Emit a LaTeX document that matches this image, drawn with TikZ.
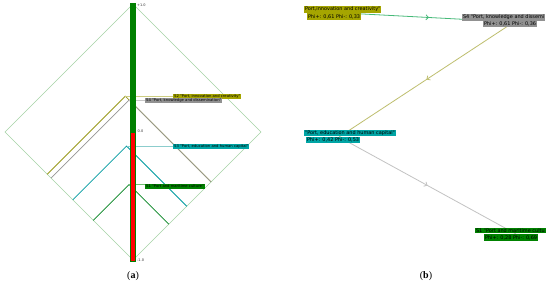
\documentclass[tikz,border=0pt]{standalone}
\usepackage{fontspec}
\newfontfamily\lblfont{DejaVu Sans}
\newfontfamily\capfont{Liberation Serif}
\usetikzlibrary{arrows.meta,decorations.markings}
\definecolor{olv}{RGB}{155,155,30}
\definecolor{olvL}{RGB}{205,205,130}
\definecolor{olvB}{RGB}{165,165,0}
\definecolor{gry}{RGB}{150,150,150}
\definecolor{gryL}{RGB}{200,200,200}
\definecolor{gryB}{RGB}{145,145,145}
\definecolor{tea}{RGB}{0,155,160}
\definecolor{teaL}{RGB}{140,205,205}
\definecolor{teaB}{RGB}{0,165,165}
\definecolor{grn}{RGB}{0,130,30}
\definecolor{grnL}{RGB}{115,190,115}
\definecolor{grnB}{RGB}{0,130,0}
\definecolor{dia}{RGB}{165,210,165}
\definecolor{edgG}{RGB}{70,185,120}
\definecolor{edgO}{RGB}{190,190,110}
\definecolor{edgY}{RGB}{195,195,195}
\definecolor{barG}{RGB}{0,128,0}
\definecolor{barR}{RGB}{255,0,0}
\tikzset{
  lblA/.style={font=\lblfont\fontsize{3.75}{4.2}\selectfont, inner xsep=1pt, inner ysep=0.9pt, anchor=west, text=black},
  lblB/.style={font=\lblfont\fontsize{4.95}{5.4}\selectfont, inner xsep=0.8pt, inner ysep=0.9pt, text=black},
  ticklbl/.style={font=\lblfont\fontsize{3.5}{4}\selectfont, inner sep=0pt, anchor=west, text=black!80},
  cone/.style={line width=0.8pt},
  leader/.style={line width=0.7pt},
  midarrow/.style={postaction={decorate}, decoration={markings, mark=at position 0.5 with {\arrow{Straight Barb[length=2.5pt,width=5pt]}}}},
  captxt/.style={font=\capfont\fontsize{10}{12}\selectfont, inner sep=0pt}
}
\begin{document}
\begin{tikzpicture}[x=1pt,y=-1pt]
\useasboundingbox (0,0) rectangle (550,289);
\fill[white] (0,0) rectangle (550,289);
% ---------- panel (a) ----------
\coordinate (dT) at (133,4);
\coordinate (dR) at (261,132);
\coordinate (dB) at (133,260);
\coordinate (dL) at (5,132);
\draw[dia, line width=0.7pt] (dT) -- (dR) -- (dB) -- (dL) -- cycle;
% action points and cone ends
\coordinate (v2) at (125.32,96.16);  \coordinate (l2) at (47.24,174.24);  \coordinate (r2) at (211.08,181.92);
\coordinate (v4) at (129.16,100);    \coordinate (l4) at (51.08,178.08);  \coordinate (r4) at (211.08,181.92);
\coordinate (v3) at (126.6,146.08);  \coordinate (l3) at (72.84,199.84);  \coordinate (r3) at (186.76,206.24);
\coordinate (v1) at (129.16,184.48); \coordinate (l1) at (93.32,220.32);  \coordinate (r1) at (168.84,224.16);
\draw[cone, grn] (l1) -- (v1) -- (r1);
\draw[cone, tea] (l3) -- (v3) -- (r3);
\draw[cone, olv] (l2) -- (v2) -- (r2);
\draw[cone, gry] (l4) -- (v4) -- (r4);
% labels
\node[lblA, fill=olvB] (a2) at (173,96.3) {S2 "Port, innovation and creativity"};
\node[lblA, fill=gryB] (a4) at (145,100.6) {S4 "Port, knowledge and dissemination"};
\node[lblA, fill=teaB] (a3) at (173,146.6) {S3 "Port, education and human capital"};
\node[lblA, fill=grnB] (a1) at (145,186.2) {S1 "Port and maritime culture"};
\draw[leader, olvL] (v2) -- (a2.west |- v2);
\draw[leader, gryL] (v4) -- (a4.west |- v4);
\draw[leader, teaL] (v3) -- (a3.west |- v3);
\draw[leader, grnL] (v1) -- (a1.west |- v1);
% bar
\fill[barG] (130,3) rectangle (135,133);
\fill[barR] (130,133) rectangle (135,261);
\draw[barG, line width=0.5pt] (130,3) rectangle (135,261);
\node[ticklbl] (tp) at (137,5) {+1.0};
\node[ticklbl] (t0) at (137.5,131) {0.0};
\node[ticklbl] (tm) at (137,260) {-1.0};
\node[captxt] (capa) at (133,276) {(\textbf{a})};
% ---------- panel (b) ----------
\coordinate (c2) at (344,13);
\coordinate (c4) at (514,22);
\coordinate (c3) at (339,137);
\coordinate (c1) at (516,234);
\draw[edgG, line width=0.8pt, midarrow] (c2) -- (c4);
\draw[edgO, line width=0.8pt, midarrow] (c4) -- (c3);
\draw[edgY, line width=0.8pt, midarrow] (c3) -- (c1);
\node[lblB, fill=olvB, anchor=west] (b2a) at (304,9.5) {Port,innovation and creativity"};
\node[lblB, fill=olvB, anchor=west] (b2b) at (307,16.5) {Phi+: 0,61 Phi-: 0,33};
\node[lblB, fill=gryB, anchor=west] (b4a) at (462,17.5) {S4 "Port, knowledge and dissemi};
\node[lblB, fill=gryB, anchor=west] (b4b) at (483,24.3) {Phi+: 0,61 Phi-: 0,36};
\node[lblB, fill=teaB, anchor=west] (b3a) at (304,133) {"Port, education and human capital"};
\node[lblB, fill=teaB, anchor=west] (b3b) at (306,139.8) {Phi+: 0,42 Phi-: 0,53};
\node[lblB, fill=grnB, anchor=west] (b1a) at (475,230.5) {S1 "Port and maritime cultu};
\node[lblB, fill=grnB, anchor=west] (b1b) at (484,237.5) {Phi+: 0,28 Phi-: 0,69};
\node[captxt] (capb) at (426,276) {(\textbf{b})};
\end{tikzpicture}
\end{document}
